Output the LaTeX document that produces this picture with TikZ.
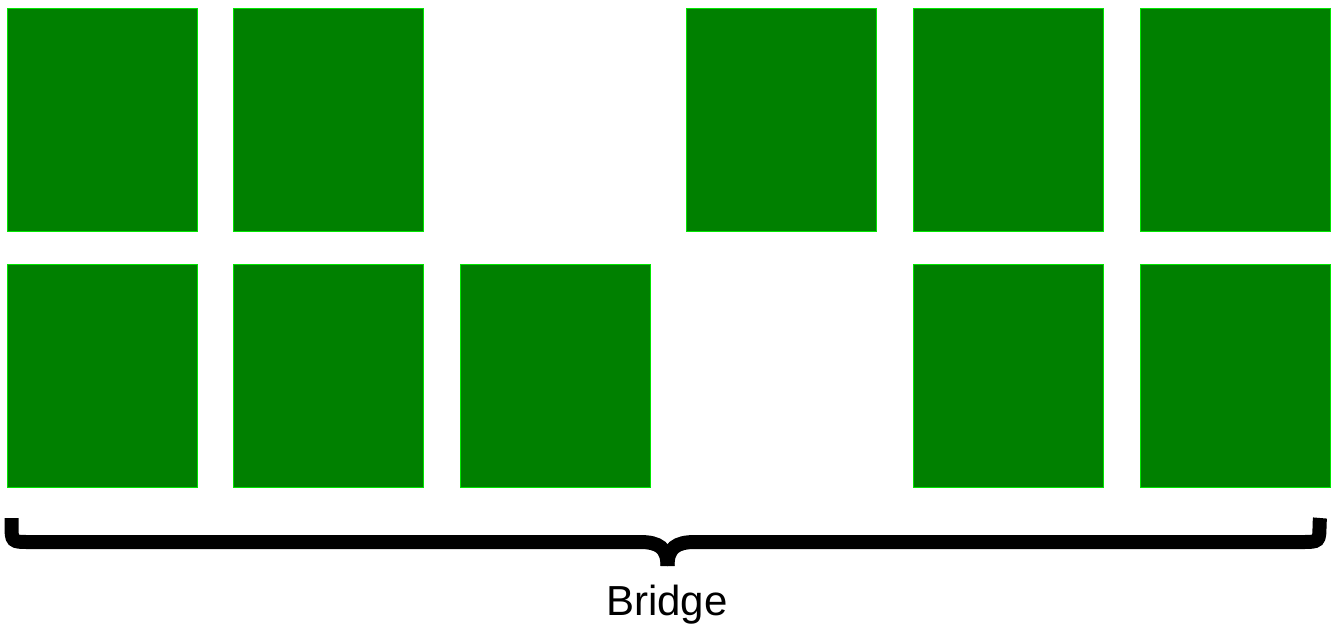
\documentclass[tikz,border=0pt]{standalone}
\usepackage{fontspec}
\setmainfont{Liberation Sans}
\usetikzlibrary{positioning}
\definecolor{cellfill}{RGB}{0,128,0}
\definecolor{celledge}{RGB}{0,230,0}

\begin{document}
\begin{tikzpicture}[
x=1pt, y=-1pt,
node distance=33pt and 36.6pt,
cell/.style={rectangle, draw=celledge, fill=cellfill, line width=1pt, minimum width=190pt, minimum height=223pt, inner sep=0pt, outer sep=0pt},
bracket/.style={line width=14pt},
tag/.style={font=\fontsize{42}{50}\selectfont}
]
    \useasboundingbox (0,0) rectangle (1332,625);

    % lower row
    \node[cell] (b1) at (102,375.5) {};
    \node[cell, right=of b1] (b2) {};
    \node[cell, right=of b2] (b3) {};
    \node[cell, right=263.2pt of b3] (b5) {};
    \node[cell, right=of b5] (b6) {};

    % upper row
    \node[cell, above=of b1] (a1) {};
    \node[cell, above=of b2] (a2) {};
    \node[cell, right=263.2pt of a2] (a4) {};
    \node[cell, above=of b5] (a5) {};
    \node[cell, above=of b6] (a6) {};

    % brace under both rows
    \coordinate (bl) at ([xshift=4.5pt, yshift=-31pt]b1.south west);
    \coordinate (br) at ([xshift=-10pt, yshift=-31pt]b6.south east);
    \coordinate (ml) at (640,542);
    \coordinate (mr) at (695,542);
    \coordinate (tip) at (667.5,566);
    \draw[bracket] (bl) -- (11.5,524) .. controls (11.5,542) .. (30,542) -- (ml)
        .. controls (659,542) and (667.5,548) .. (tip);
    \draw[bracket] (br) -- (1319.5,524) .. controls (1319.5,542) .. (1301,542) -- (mr)
        .. controls (676,542) and (667.5,548) .. (tip);
    \node[tag, anchor=base] (bridge) at (667,615) {Bridge};

\end{tikzpicture}
\end{document}
